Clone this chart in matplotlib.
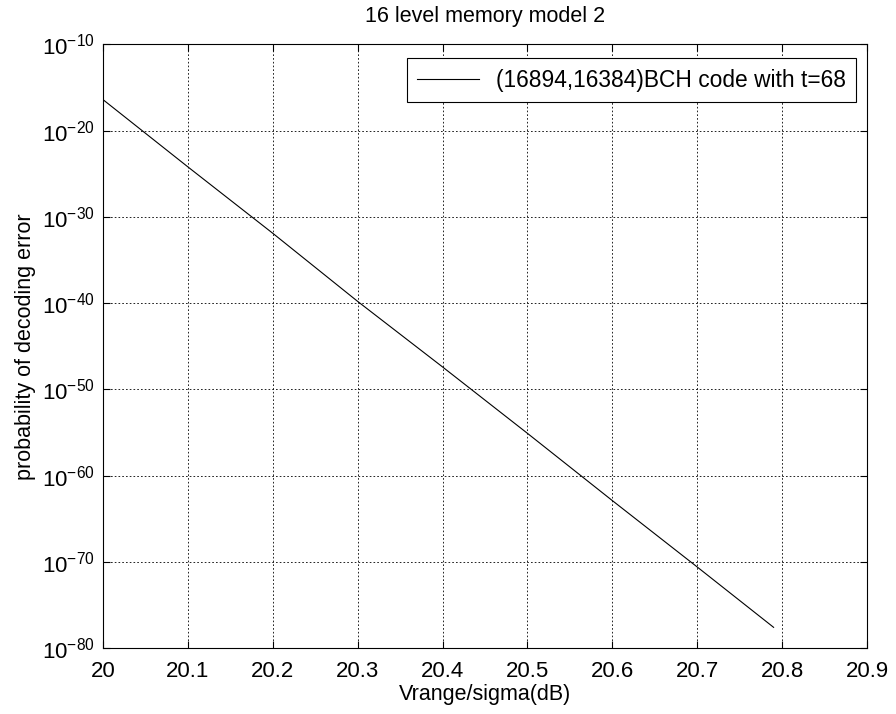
import numpy as np
import matplotlib
matplotlib.use("Agg")
import matplotlib.pyplot as plt

# Daten
snr_db = [20.0, 20.1, 20.2, 20.3, 20.4, 20.5, 20.6, 20.7, 20.79]
log_pe = [-16.4, -24.2, -31.9, -39.8, -47.4, -55.1, -62.9, -70.6, -77.6]
x_ticks = [20, 20.1, 20.2, 20.3, 20.4, 20.5, 20.6, 20.7, 20.8, 20.9]
y_exps = [-80, -70, -60, -50, -40, -30, -20, -10]
legend_label = "(16894,16384)BCH code with t=68"

plt.rcParams['font.family'] = ['Liberation Sans', 'DejaVu Sans']
plt.rcParams['mathtext.fontset'] = 'custom'
plt.rcParams['mathtext.rm'] = 'Liberation Sans'

fig = plt.figure(figsize=(8.96, 7.14), dpi=100)
ax = fig.add_axes([0.115, 0.0924, 0.8526, 0.8453])

pe = 10.0 ** np.array(log_pe)
ax.semilogy(snr_db, pe, color='black', linewidth=0.8, label=legend_label)

ax.set_xlim(20, 20.9)
ax.set_ylim(1e-80, 1e-10)
ax.set_xticks(x_ticks)
ax.set_xticklabels([f"{t:g}" for t in x_ticks])
ax.set_yticks([10.0 ** e for e in y_exps])
ax.set_yticklabels([f"$10^{{{e}}}$" for e in y_exps])
ax.yaxis.set_minor_locator(matplotlib.ticker.NullLocator())

ax.tick_params(direction='in', top=True, right=True, length=5, width=0.8,
               labelsize=16)
ax.tick_params(axis='x', pad=9)
ax.tick_params(axis='y', pad=6)
ax.grid(True, which='major', color='black', linestyle=(0, (2, 2.5)), linewidth=0.6)
for s in ax.spines.values():
    s.set_linewidth(0.8)

ax.set_title("16 level memory model 2", fontsize=15.5, pad=16)
ax.set_xlabel("Vrange/sigma(dB)", fontsize=15.5, labelpad=2)
ax.set_ylabel("probability of decoding error", fontsize=15.5, labelpad=4)

leg = ax.legend(loc='upper right', fontsize=16.4, frameon=True, fancybox=False,
                edgecolor='black', framealpha=1, handlelength=2.7,
                borderpad=0.45, handletextpad=0.75, borderaxespad=0,
                bbox_to_anchor=(0.9856, 0.977))
leg.get_frame().set_linewidth(0.8)

fig.savefig("out.png", dpi=100)
